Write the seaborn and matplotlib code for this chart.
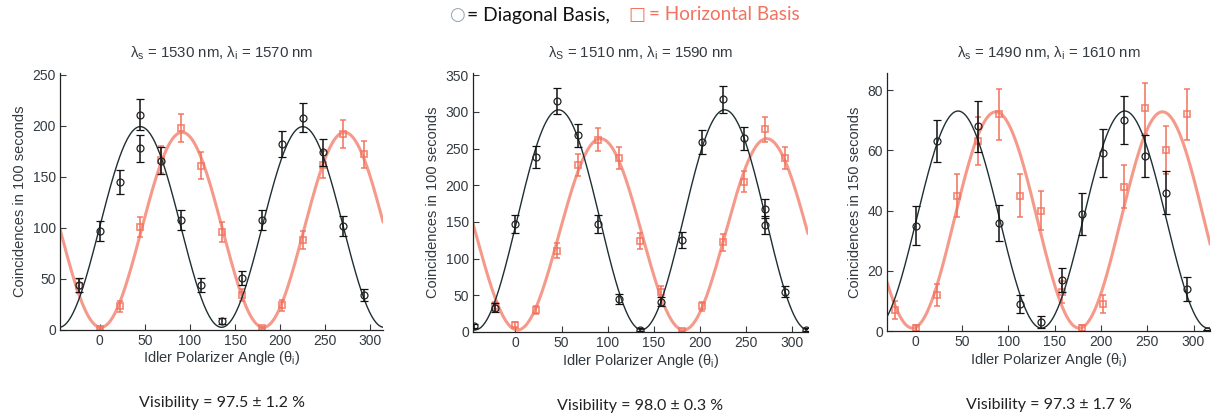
import numpy as np
import matplotlib
matplotlib.use('Agg')
import matplotlib.pyplot as plt
import seaborn as sns

# panel 1: lambda_s = 1530 nm
ang1_d = [-22.5, 0, 22.5, 45, 45, 67.5, 90, 112.5, 135, 157.5, 180, 202.5, 225, 247.5, 270, 292.5]
cnt1_d = [44, 97, 145, 211, 178, 166, 108, 44, 9, 51, 108, 182, 208, 174, 102, 34]
err1_d = [7, 10, 12, 15, 13, 13, 10, 7, 3, 7, 10, 13, 14, 13, 10, 6]
ang1_h = [-22.5, 0, 22.5, 45, 67.5, 90, 112.5, 135, 157.5, 180, 202.5, 225, 247.5, 270, 292.5]
cnt1_h = [43, 1, 23, 101, 167, 198, 161, 96, 34, 2, 24, 88, 162, 192, 172]
err1_h = [7, 1, 5, 10, 13, 14, 13, 10, 6, 1, 5, 9, 13, 14, 13]

# panel 2: lambda_s = 1510 nm
ang2_d = [-45, -22.5, 0, 22.5, 45, 67.5, 90, 112.5, 135, 157.5, 180, 202.5, 225, 247.5, 270, 270, 292.5, 315]
cnt2_d = [8, 33, 147, 239, 315, 268, 147, 45, 3, 41, 125, 259, 317, 264, 168, 146, 55, 3]
err2_d = [3, 6, 12, 15, 18, 16, 12, 7, 2, 6, 11, 16, 18, 16, 13, 12, 7, 2]
ang2_h = [-22.5, 0, 22.5, 45, 67.5, 90, 112.5, 135, 157.5, 180, 202.5, 225, 247.5, 270, 292.5]
cnt2_h = [35, 10, 30, 111, 228, 262, 237, 124, 55, 1, 35, 122, 205, 276, 237]
err2_h = [6, 3, 5, 10, 15, 16, 15, 11, 7, 1, 6, 11, 14, 17, 15]

# panel 3: lambda_s = 1490 nm
ang3_d = [0, 22.5, 67.5, 90, 112.5, 135, 157.5, 180, 202.5, 225, 247.5, 270, 292.5, 315]
cnt3_d = [35, 63, 68, 36, 9, 3, 17, 39, 59, 70, 58, 46, 14, 0]
err3_d = [6.5, 7, 8.5, 6, 3, 2, 4, 7, 8, 8, 7, 7, 4, 0.5]
ang3_h = [-22.5, 0, 22.5, 45, 67.5, 90, 112.5, 135, 157.5, 180, 202.5, 225, 247.5, 270, 292.5]
cnt3_h = [7, 1, 12, 45, 63, 72, 45, 40, 13, 1, 9, 48, 74, 60, 72]
err3_h = [3, 1, 3.5, 7, 8, 8.5, 7, 6.5, 3.5, 1, 3, 7, 8.5, 8, 8.5]

titles = [r'$\lambda_\mathrm{s}$ = 1530 nm, $\lambda_\mathrm{i}$ = 1570 nm',
          r'$\lambda_\mathrm{S}$ = 1510 nm, $\lambda_\mathrm{i}$ = 1590 nm',
          r'$\lambda_\mathrm{s}$ = 1490 nm, $\lambda_\mathrm{i}$ = 1610 nm']
ylabels = ['Coincidences in 100 seconds', 'Coincidences in 100 seconds', 'Coincidences in 150 seconds']
vis_values = [97.5, 98.0, 97.3]
vis_errors = [1.2, 0.3, 1.7]
yticks = [[0, 50, 100, 150, 200, 250], [0, 50, 100, 150, 200, 250, 300, 350], [0, 20, 40, 60, 80]]
ylims = [(0, 252), (0, 353), (0, 85.6)]
xlims = [(-44, 314), (-46, 317), (-31, 318)]
boxes = [[0.049, 0.207, 0.264, 0.618], [0.3864, 0.202, 0.2737, 0.6226], [0.7247, 0.204, 0.264, 0.620]]

BLACK = '#1e2f33'
RED = '#f2735f'
TXT = '#333a40'


def fit_curve(ang, cnt, vis, x):
    # fringe N*(1 + V cos(2(t - phi))) with V from the quoted visibility,
    # phase by grid search, N by least squares
    t = np.radians(np.array(ang))
    y = np.array(cnt, dtype=float)
    best = None
    for phi in np.radians(np.arange(0, 180, 0.25)):
        f = 1 + vis * np.cos(2 * (t - phi))
        n = np.sum(y * f) / np.sum(f * f)
        r = np.sum((y - n * f) ** 2)
        if best is None or r < best[0]:
            best = (r, n, phi)
    _, n, phi = best
    return n * (1 + vis * np.cos(2 * (np.radians(x) - phi)))


def draw_panel(fig, i, diag, horiz):
    ax = fig.add_axes(boxes[i])
    x = np.linspace(xlims[i][0], xlims[i][1], 400)
    v = vis_values[i] / 100
    ah, ch, eh = horiz
    ad, cd, ed = diag
    sns.lineplot(x=x, y=fit_curve(ah, ch, v, x), color=RED, lw=2.2, alpha=0.72, ax=ax, zorder=1)
    ax.errorbar(ah, ch, yerr=eh, fmt='s', mfc='none', mec=RED, ms=5, mew=1.3,
                ecolor=RED, elinewidth=1.4, capsize=2.5, capthick=1.3, alpha=0.8, zorder=2)
    sns.lineplot(x=x, y=fit_curve(ad, cd, v, x), color=BLACK, lw=1.0, ax=ax, zorder=3)
    ax.errorbar(ad, cd, yerr=ed, fmt='o', mfc='none', mec='#222222', ms=5, mew=0.9,
                ecolor='#111111', elinewidth=1.1, capsize=2.8, capthick=1.1, zorder=4)
    ax.set_xlim(*xlims[i])
    ax.set_ylim(*ylims[i])
    ax.set_xticks([0, 50, 100, 150, 200, 250, 300])
    ax.set_yticks(yticks[i])
    ax.tick_params(direction='in', length=4, width=0.8, labelsize=10, colors=TXT, pad=3)
    sns.despine(ax=ax)
    for s in ['left', 'bottom']:
        ax.spines[s].set_linewidth(0.9)
        ax.spines[s].set_color('#222222')
    ax.set_xlabel(r'Idler Polarizer Angle ($\theta_\mathrm{i}$)', fontsize=10.5, color=TXT, labelpad=1)
    ax.set_ylabel(ylabels[i], fontsize=10.5, color=TXT, labelpad=4)
    ax.set_title(titles[i], fontsize=10.8, color=TXT, pad=11)
    label = 'Visibility = {:.1f} \u00b1 {:.1f} %'.format(vis_values[i], vis_errors[i])
    ax.text(0.5, -0.285, label, transform=ax.transAxes, ha='center', va='center',
            fontsize=11.5, family=['Lato', 'DejaVu Sans'], color='#222222')
    return ax


def main():
    sns.set_style('ticks')
    plt.rcParams['font.family'] = ['Liberation Sans', 'DejaVu Sans']
    plt.rcParams['mathtext.fontset'] = 'custom'
    plt.rcParams['mathtext.rm'] = 'Liberation Sans'
    plt.rcParams['mathtext.it'] = 'Liberation Sans'
    fig = plt.figure(figsize=(12.24, 4.16), dpi=100)
    draw_panel(fig, 0, (ang1_d, cnt1_d, err1_d), (ang1_h, cnt1_h, err1_h))
    draw_panel(fig, 1, (ang2_d, cnt2_d, err2_d), (ang2_h, cnt2_h, err2_h))
    draw_panel(fig, 2, (ang3_d, cnt3_d, err3_d), (ang3_h, cnt3_h, err3_h))

    # header legend
    fam = ['Lato', 'DejaVu Sans']
    fig.text(457 / 1224, 1 - 15 / 416, '\u25cb', ha='center', va='center', fontsize=13,
             color='#9aa6b2', family=['DejaVu Sans'])
    fig.text(467 / 1224, 1 - 15 / 416, '= Diagonal Basis,', ha='left', va='center',
             fontsize=13.9, color='#111111', family=fam)
    fig.text(637 / 1224, 1 - 15 / 416, '\u25a1', ha='center', va='center', fontsize=13,
             color=RED, family=['DejaVu Sans'])
    fig.text(649 / 1224, 1 - 15 / 416, '= Horizontal Basis', ha='left', va='center',
             fontsize=13.7, color=RED, family=fam)
    fig.savefig('out.png', dpi=100)


if __name__ == '__main__':
    main()
